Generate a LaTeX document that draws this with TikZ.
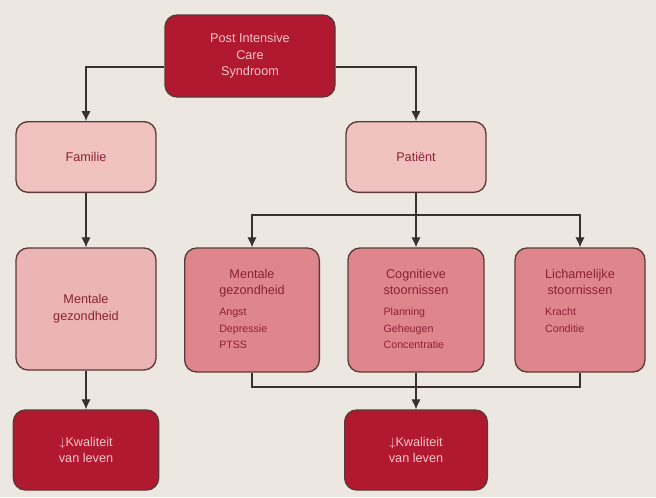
\documentclass[tikz,border=0pt]{standalone}
\usepackage{fontspec}
\setmainfont{Liberation Sans}
\usetikzlibrary{arrows.meta}

\definecolor{pcsred}{HTML}{B0192F}
\definecolor{palepink}{HTML}{F0C3C1}
\definecolor{rosepink}{HTML}{EBB5B6}
\definecolor{midpink}{HTML}{DF868D}
\definecolor{boxline}{HTML}{5A3A36}
\definecolor{redtext}{HTML}{8A2233}
\definecolor{lighttext}{HTML}{F3C6C8}
\definecolor{linecol}{HTML}{3A302E}
\definecolor{paper}{HTML}{ECE7E1}

\newcommand{\boxtitle}[1]{\multicolumn{1}{@{}c@{}}{\fontsize{9.5}{12.5}\selectfont #1}}

\begin{document}
\begin{tikzpicture}[x=0.75pt,y=-0.75pt,
    darkbox/.style={fill=pcsred,text=lighttext},
    pinkbox/.style={fill=palepink,text=redtext},
    rosebox/.style={fill=rosepink,text=redtext},
    listbox/.style={fill=midpink,text=redtext,minimum height=93pt},
    arr/.style={-{Latex[length=7.5pt,width=7pt]}}]

        \fill[paper] (0,0) rectangle (656,497);
        \useasboundingbox (0,0) rectangle (656,497);

        \begin{scope}[every node/.style={draw=boxline,line width=1pt,rounded corners=9pt,
            align=center,font=\fontsize{9.5}{12.5}\selectfont}]
          \node[darkbox,minimum width=127.5pt,minimum height=61.5pt] (1) at (250,56) {Post Intensive\\Care\\Syndroom};
          \node[pinkbox,minimum width=105pt,minimum height=53pt] (2) at (86,157) {Familie};
          \node[pinkbox,minimum width=105pt,minimum height=53pt] (4) at (416,157) {Patiënt};
          \node[rosebox,minimum width=105pt,minimum height=91.5pt] (3) at (86,309) {Mentale\\gezondheid};
          \node[listbox,minimum width=101pt] (5) at (252,310) {\begin{tabular}{@{}l@{}}
              \boxtitle{Mentale}\\ \boxtitle{gezondheid}\\[3pt]
              \fontsize{8}{10.5}\selectfont Angst\\ \fontsize{8}{10.5}\selectfont Depressie\\ \fontsize{8}{10.5}\selectfont PTSS
            \end{tabular}};
          \node[listbox,minimum width=102pt] (6) at (416,310) {\begin{tabular}{@{}l@{}}
              \boxtitle{Cognitieve}\\ \boxtitle{stoornissen}\\[3pt]
              \fontsize{8}{10.5}\selectfont Planning\\ \fontsize{8}{10.5}\selectfont Geheugen\\ \fontsize{8}{10.5}\selectfont Concentratie
            \end{tabular}};
          \node[listbox,minimum width=97.5pt] (7) at (580,310) {\begin{tabular}{@{}l@{}}
              \boxtitle{Lichamelijke}\\ \boxtitle{stoornissen}\\[3pt]
              \fontsize{8}{10.5}\selectfont Kracht\\ \fontsize{8}{10.5}\selectfont Conditie\\ \phantom{X}
            \end{tabular}};
          \node[darkbox,minimum width=109pt,minimum height=60pt] (8) at (86,450) {$\downarrow$Kwaliteit\\van leven};
          \node[darkbox,minimum width=107pt,minimum height=60pt] (9) at (416,450) {$\downarrow$Kwaliteit\\van leven};
        \end{scope}

        \begin{scope}[draw=linecol,line width=0.9pt]
          \coordinate (pj) at (416,215);
          \coordinate (mj) at (416,387);
          \draw[arr] ([yshift=-8.25pt]1.west) -| (2);
          \draw[arr] ([yshift=-8.25pt]1.east) -| (4);
          \draw[arr] (2) -- (3);
          \draw[arr] (3) -- (8);
          \draw (4) -- (pj);
          \draw[arr] (pj) -| (5);
          \draw[arr] (pj) -- (6);
          \draw[arr] (pj) -| (7);
          \draw (5) |- (mj) -| (7);
          \draw[arr] (6) -- (9);
        \end{scope}

      \end{tikzpicture}
\end{document}
